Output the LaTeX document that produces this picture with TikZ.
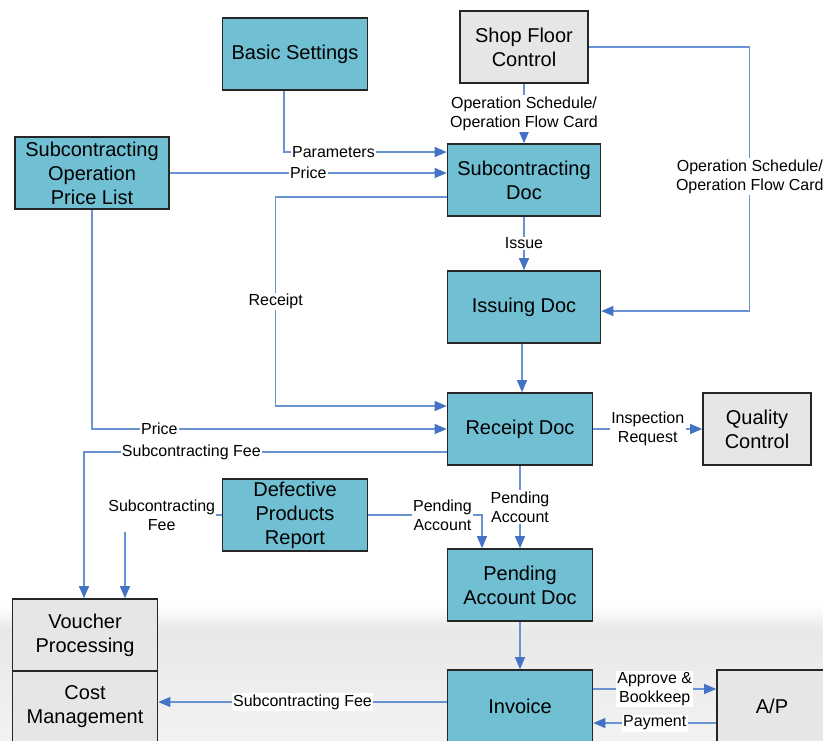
\documentclass[tikz,border=0pt]{standalone}
\usepackage{fontspec}
\setmainfont{Liberation Sans}
\usepackage{tikz}
\usetikzlibrary{positioning,arrows.meta,calc}
\definecolor{cdoc}{HTML}{70BFD3}
\definecolor{cext}{HTML}{E6E6E6}
\definecolor{cline}{HTML}{6A93D4}
\definecolor{ctip}{HTML}{4472C4}

\begin{document}
\begin{tikzpicture}[
  x=0.75pt, y=-0.75pt,
  box/.style={draw=black!85, line width=1.2pt, align=center, inner sep=1pt,
    minimum width=108.75pt, minimum height=54pt, font=\fontsize{15}{18}\selectfont},
  doc/.style={box, fill=cdoc},
  ext/.style={box, fill=cext},
  flow/.style={-{Triangle[length=9pt, width=7.5pt, color=ctip]}, draw=cline, line width=0.8pt},
  lab/.style={fill=white, inner sep=1pt, align=center, font=\fontsize{12}{14.25}\selectfont},
]
\useasboundingbox (0,0) rectangle (823,740);
\clip (0,0) rectangle (823,740);

% =================== background ===================
\shade[top color=white, bottom color=black!9] (0,605) rectangle (823,630);
\shade[top color=black!9, bottom color=black!5] (0,630) rectangle (823,740);

% =================== boxes ===================
\node[doc] (basic) at (295,54) {Basic Settings};
\node[ext, minimum width=96pt] (shop) at (524,47) {Shop Floor\\Control};
\node[doc, minimum width=115.5pt] (plist) at (92,173) {Subcontracting\\Operation\\Price List};
\node[doc, minimum width=114.75pt] (subdoc) at (524,180) {Subcontracting\\Doc};
\node[doc, minimum width=114.75pt] (issuing) at (524,307) {Issuing Doc};
\node[doc] (receipt) at (520,429) {Receipt Doc};
\node[ext, minimum width=81pt] (qc) at (757,429) {Quality\\Control};
\node[doc] (defect) at (295,515) {Defective\\Products\\Report};
\node[doc] (pending) at (520,585) {Pending\\Account Doc};
\node[doc] (invoice) at (520,706) {Invoice};
\node[ext, minimum width=82.5pt] (ap) at (772,706) {A/P};
\node[ext] (voucher) at (85,635) {Voucher\\Processing};
\node[ext] (cost) at (85,707) {Cost\\Management};

% =================== connectors ===================
\draw[flow] ([xshift=-8.25pt]basic.south) |- node[lab,pos=0.652]{Parameters} ([yshift=21pt]subdoc.west);
\draw[flow] (plist.east) -- node[lab]{Price} (plist.east -| subdoc.west);
\draw[flow] ([yshift=-12.75pt]subdoc.west) -- ++(-171,0)
  |- node[lab,pos=0.25]{Receipt} ([yshift=17.25pt]receipt.west);
\draw[flow] (shop.south) -- node[lab]{Operation Schedule/\\Operation Flow Card} (subdoc.north);
\draw[flow] (shop.east) -- ++(161,0)
  |- node[lab,pos=0.245]{Operation Schedule/\\Operation Flow Card} ([yshift=-3pt]issuing.east);
\draw[flow] (subdoc.south) -- node[lab]{Issue} (issuing.north);
\draw[flow] ([xshift=-1.5pt]issuing.south) -- ([xshift=-1.5pt]issuing.south |- receipt.north);
\draw[flow] (plist.south) |- node[lab,pos=0.595]{Price} (receipt.west);
\draw[flow] ([yshift=-17.25pt]receipt.west) -| node[lab,pos=0.352]{Subcontracting Fee} ([xshift=-0.75pt]voucher.north);
\draw[flow] (defect.west) -| node[lab,pos=0.31]{Subcontracting\\Fee} ([xshift=30pt]voucher.north);
\draw[flow] (defect.east) -| node[lab,pos=0.326]{Pending\\Account} ([xshift=-28.5pt]pending.north);
\draw[flow] (receipt.south) -- node[lab]{Pending\\Account} (pending.north);
\draw[flow] (receipt.east) -- node[lab]{Inspection\\Request} (qc.west);
\draw[flow] (pending.south) -- (invoice.north);
\draw[flow] ([yshift=12.75pt]invoice.east) -- node[lab]{Approve \&\\Bookkeep} ([yshift=12.75pt]ap.west);
\draw[flow] ([yshift=-12.75pt]ap.west) -- node[lab]{Payment} ([yshift=-12.75pt]invoice.east);
\draw[flow] ([yshift=3pt]invoice.west) -- node[lab]{Subcontracting Fee} ([yshift=3pt]invoice.west -| cost.east);
\end{tikzpicture}
\end{document}
